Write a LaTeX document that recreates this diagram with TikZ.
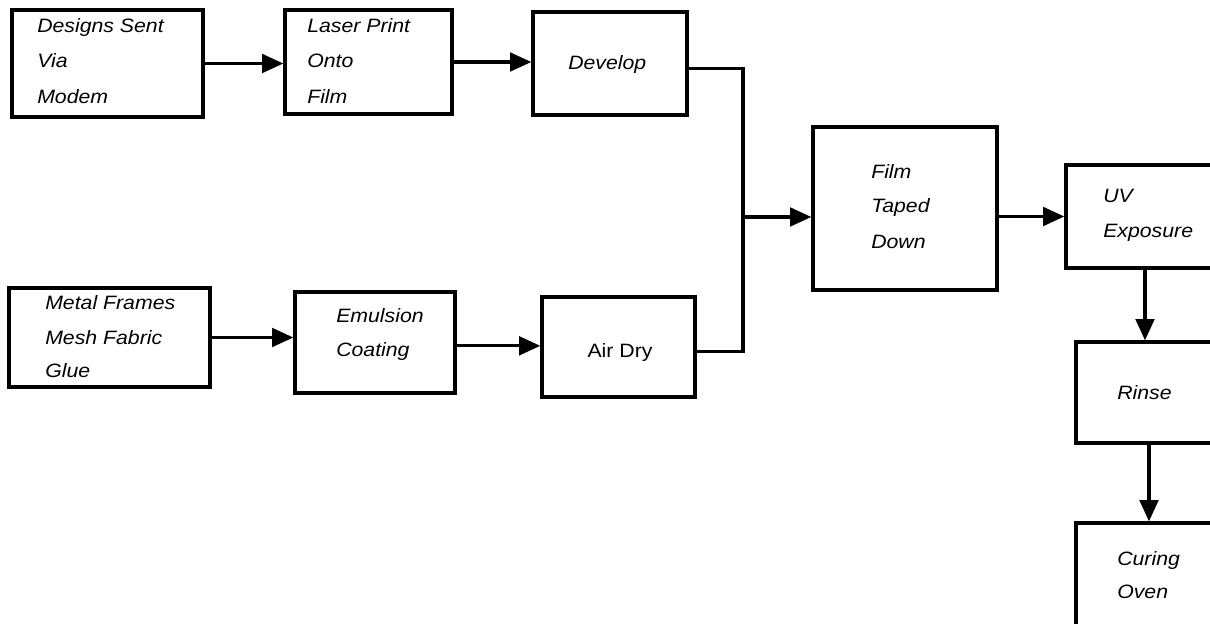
\documentclass[tikz,border=0pt]{standalone}
\usepackage{fontspec}
\setmainfont{Liberation Sans}[FakeStretch=1.1]
\usetikzlibrary{arrows.meta,fit}
\begin{document}
\begin{tikzpicture}[x=0.75pt,y=-0.75pt,
  box/.style={draw,line width=2.5pt,inner sep=0pt},
  lbl/.style={anchor=base west,inner sep=0pt,font=\fontsize{14.5}{17}\selectfont\itshape},
  lblup/.style={anchor=base,inner sep=0pt,font=\fontsize{14.5}{17}\selectfont},
  conn/.style={line width=2.4pt},
  arr/.style={conn,-{Triangle[length=16pt,width=14pt]}}]
\useasboundingbox (0,0) rectangle (1210,624);
\fill[white] (0,0) rectangle (1210,624);
\clip (0,0) rectangle (1210,624);

% boxes
\node[box,fit={(12,10) (203,117)}] (b1) {};
\node[box,fit={(285,10) (452,114)}] (b2) {};
\node[box,fit={(533,12) (687,115)}] (b3) {};
\node[box,fit={(813,127) (997,290)}] (film) {};
\node[box,fit={(1066,165) (1225,268)}] (uv) {};
\node[box,fit={(1076,342) (1225,443)}] (rinse) {};
\node[box,fit={(1076,523) (1225,640)}] (cure) {};
\node[box,fit={(9,288) (210,387)}] (metal) {};
\node[box,fit={(295,292) (455,393)}] (emul) {};
\node[box,fit={(542,297) (695,397)}] (air) {};

% texts
\node[lbl] (t1a) at (37,33) {Designs Sent};
\node[lbl] (t1b) at (37,68) {Via};
\node[lbl] (t1c) at (37,104) {Modem};
\node[lbl] (t2a) at (307,33) {Laser Print};
\node[lbl] (t2b) at (307,68) {Onto};
\node[lbl] (t2c) at (307,104) {Film};
\node[lbl] (t3) at (568,70) {Develop};
\node[lbl] (tfa) at (871,179) {Film};
\node[lbl] (tfb) at (871,213) {Taped};
\node[lbl] (tfc) at (871,248) {Down};
\node[lbl] (tua) at (1103,203) {UV};
\node[lbl] (tub) at (1103,238) {Exposure};
\node[lbl] (tr) at (1117,399) {Rinse};
\node[lbl] (tca) at (1117,565) {Curing};
\node[lbl] (tcb) at (1117,598) {Oven};
\node[lbl] (tma) at (45,309) {Metal Frames};
\node[lbl] (tmb) at (45,344) {Mesh Fabric};
\node[lbl] (tmc) at (45,377) {Glue};
\node[lbl] (tea) at (336,322) {Emulsion};
\node[lbl] (teb) at (336,356) {Coating};
\node[lblup] (ta) at (620,357) {Air Dry};

% connectors
\coordinate (j) at (743,217);
\coordinate (c1) at (1145,0);
\coordinate (c2) at (1149,0);
\draw[arr] (b1.east) -- (b1.east -| b2.west);
\draw[arr] (b2.east) -- (b2.east -| b3.west);
\draw[conn] ([yshift=-4pt]b3.east) -| (j);
\draw[conn] ([yshift=-3.5pt]air.east) -| (j);
\draw[arr] (j) -- (j -| film.west);
\draw[arr] (film.east |- uv.west) -- (uv.west);
\draw[arr] (uv.south -| c1) -- (rinse.north -| c1);
\draw[arr] (rinse.south -| c2) -- (cure.north -| c2);
\draw[arr] (metal.east) -- (metal.east -| emul.west);
\draw[arr] ([yshift=-2.5pt]emul.east) -- ([yshift=-2.5pt]emul.east -| air.west);
\end{tikzpicture}
\end{document}
